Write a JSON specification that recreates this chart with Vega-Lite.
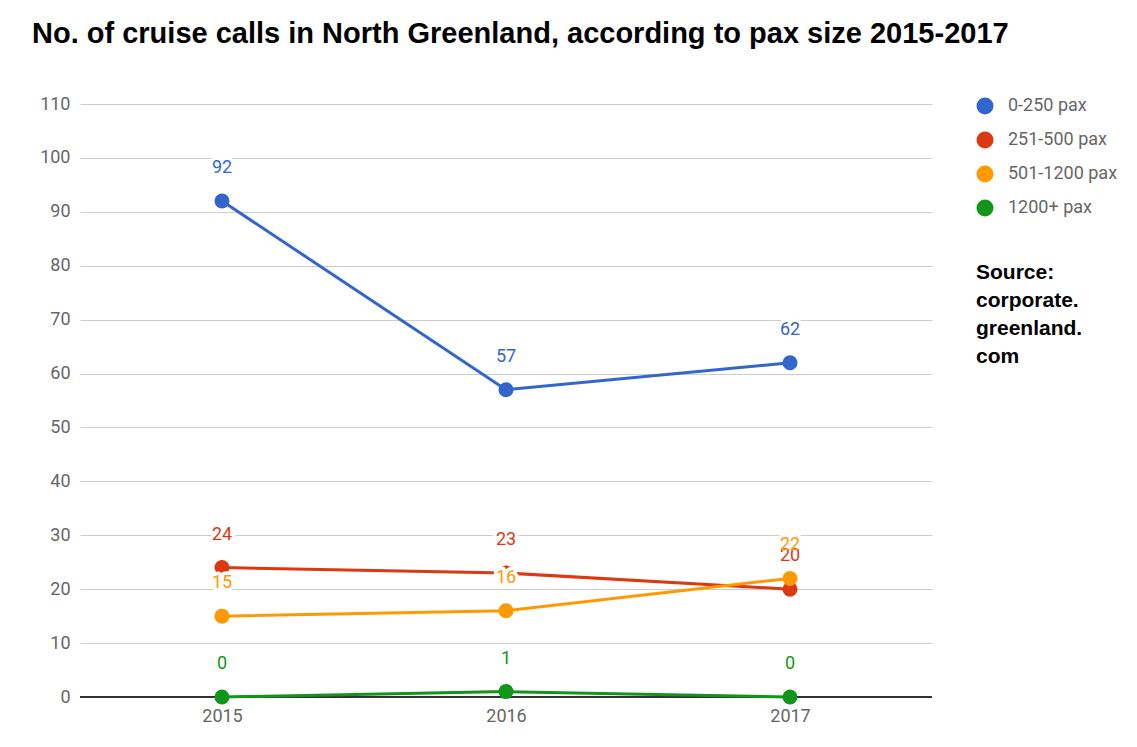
{
  "$schema": "https://vega.github.io/schema/vega-lite/v6.json",
  "width": 852,
  "height": 593,
  "autosize": "none",
  "padding": {"left": 80, "top": 104, "right": 205, "bottom": 50},
  "background": "white",
  "title": {
    "text": "No. of cruise calls in North Greenland, according to pax size 2015-2017",
    "anchor": "start",
    "frame": "group",
    "dx": -48,
    "offset": 23,
    "baseline": "alphabetic",
    "font": "Liberation Sans",
    "fontSize": 29,
    "fontWeight": "bold",
    "color": "#000000"
  },
  "data": {
    "values": [
      {"year": "2015", "size": "0-250 pax", "calls": 92},
      {"year": "2016", "size": "0-250 pax", "calls": 57},
      {"year": "2017", "size": "0-250 pax", "calls": 62},
      {"year": "2015", "size": "251-500 pax", "calls": 24},
      {"year": "2016", "size": "251-500 pax", "calls": 23},
      {"year": "2017", "size": "251-500 pax", "calls": 20},
      {"year": "2015", "size": "501-1200 pax", "calls": 15},
      {"year": "2016", "size": "501-1200 pax", "calls": 16},
      {"year": "2017", "size": "501-1200 pax", "calls": 22},
      {"year": "2015", "size": "1200+ pax", "calls": 0},
      {"year": "2016", "size": "1200+ pax", "calls": 1},
      {"year": "2017", "size": "1200+ pax", "calls": 0}
    ]
  },
  "config": {
    "view": {"stroke": null},
    "font": "Roboto"
  },
  "encoding": {
    "x": {
      "field": "year",
      "type": "ordinal",
      "scale": {"type": "point", "padding": 0.5},
      "axis": {
        "title": null,
        "labelAngle": 0,
        "labelFont": "Roboto",
        "labelFontSize": 18,
        "labelColor": "#666666",
        "labelPadding": 10,
        "ticks": false,
        "domain": false,
        "grid": false
      }
    },
    "y": {
      "field": "calls",
      "type": "quantitative",
      "scale": {"domain": [0, 110], "nice": false},
      "axis": {
        "title": null,
        "values": [0, 10, 20, 30, 40, 50, 60, 70, 80, 90, 100, 110],
        "labelFont": "Roboto",
        "labelFontSize": 18,
        "labelColor": "#666666",
        "labelPadding": 10,
        "ticks": false,
        "domain": false,
        "grid": true,
        "gridColor": "#cccccc",
        "gridWidth": 1
      }
    },
    "color": {
      "field": "size",
      "type": "nominal",
      "sort": ["0-250 pax", "251-500 pax", "501-1200 pax", "1200+ pax"],
      "scale": {
        "domain": ["0-250 pax", "251-500 pax", "501-1200 pax", "1200+ pax"],
        "range": ["#3366cc", "#dc3912", "#ff9900", "#109618"]
      },
      "legend": {
        "orient": "none",
        "legendX": 896,
        "legendY": -7,
        "title": ["Source:", "corporate.", "greenland.", "com"],
        "titleOrient": "bottom",
        "titleAnchor": "start",
        "titleAlign": "left",
        "titleFont": "Liberation Sans",
        "titleFontSize": 21,
        "titleFontWeight": "bold",
        "titleColor": "#000000",
        "titleLineHeight": 28,
        "titlePadding": 45,
        "symbolType": "circle",
        "symbolSize": 289,
        "symbolStrokeWidth": 0,
        "symbolOpacity": 1,
        "labelFont": "Roboto",
        "labelFontSize": 18,
        "labelColor": "#666666",
        "labelOffset": 14,
        "rowPadding": 16,
        "padding": 0
      }
    }
  },
  "layer": [
    {
      "mark": {"type": "rule", "color": "#333333", "strokeWidth": 1.5},
      "encoding": {"y": {"datum": 0}, "x": null, "color": null}
    },
    {
      "mark": {"type": "line", "strokeWidth": 3}
    },
    {
      "mark": {"type": "point", "filled": true, "opacity": 1, "size": 225}
    },
    {
      "mark": {"type": "text", "dy": -33, "fontSize": 18, "font": "Roboto", "baseline": "middle", "fill": "white", "stroke": "white", "strokeWidth": 7, "strokeJoin": "round"},
      "encoding": {"text": {"field": "calls", "type": "quantitative"}, "color": null}
    },
    {
      "mark": {"type": "text", "dy": -33, "fontSize": 18, "font": "Roboto", "baseline": "middle"},
      "encoding": {"text": {"field": "calls", "type": "quantitative"}}
    }
  ]
}
